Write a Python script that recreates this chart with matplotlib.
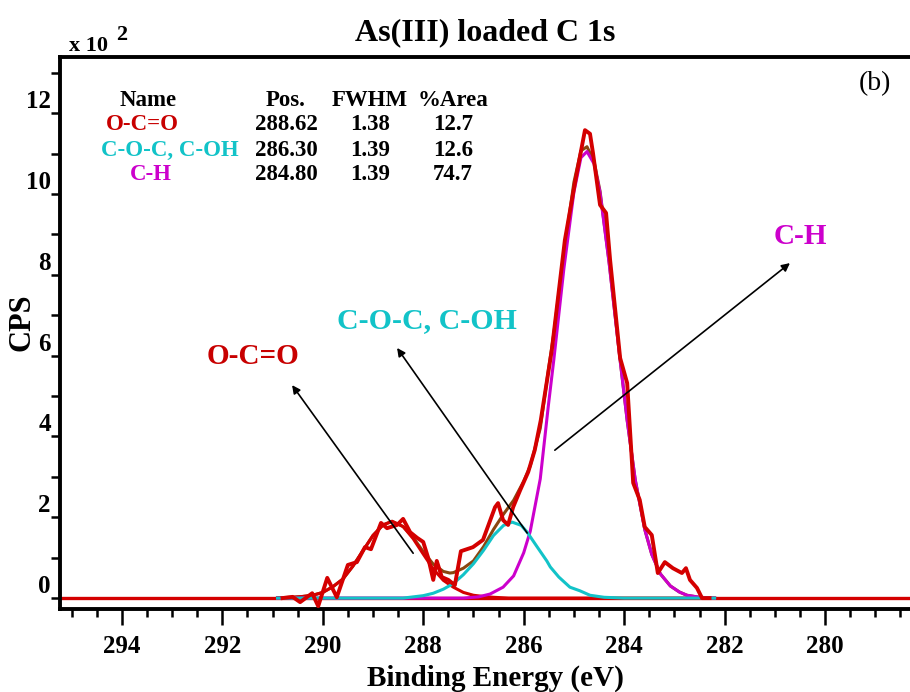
import numpy as np
import matplotlib
matplotlib.use("Agg")
import matplotlib.pyplot as plt

# values in units of 10^2 CPS, binding energy in eV
be_raw = [290.80, 290.60, 290.45, 290.21, 290.09, 289.91, 289.72, 289.50, 289.32,
          289.16, 289.04, 288.84, 288.72, 288.52, 288.40, 288.26, 288.12, 288.00,
          287.90, 287.80, 287.73, 287.63, 287.50, 287.37, 287.25, 287.01, 286.81,
          286.57, 286.51, 286.41, 286.31, 286.21, 286.07, 285.91, 285.78, 285.66,
          285.44, 285.18, 284.98, 284.78, 284.68, 284.62, 284.48, 284.36, 284.28,
          284.08, 283.94, 283.82, 283.69, 283.59, 283.45, 283.33, 283.19, 283.03,
          282.85, 282.77, 282.69, 282.55, 282.45, 282.30]
cps_raw = [0.00, 0.03, -0.10, 0.12, -0.20, 0.50, 0.02, 0.82, 0.89,
           1.26, 1.21, 1.86, 1.73, 1.81, 1.96, 1.63, 1.49, 1.39,
           0.99, 0.45, 0.92, 0.52, 0.45, 0.32, 1.16, 1.26, 1.44,
           2.25, 2.35, 1.93, 1.81, 2.25, 2.67, 3.12, 3.66, 4.40,
           6.14, 8.86, 10.27, 11.58, 11.49, 11.01, 9.73, 9.53, 8.37,
           5.94, 5.32, 2.85, 2.43, 1.76, 1.56, 0.62, 0.89, 0.74,
           0.62, 0.74, 0.45, 0.25, 0.00, 0.00]

be_oco = [290.90, 290.80, 290.60, 290.40, 290.20, 290.00, 289.80, 289.60, 289.40,
          289.20, 289.00, 288.80, 288.62, 288.40, 288.20, 288.00, 287.80, 287.60,
          287.40, 287.20, 287.00, 286.80, 286.60, 286.30, 282.20]
cps_oco = [0.00, 0.01, 0.02, 0.04, 0.07, 0.14, 0.28, 0.47, 0.79,
           1.17, 1.55, 1.81, 1.90, 1.77, 1.47, 1.09, 0.72, 0.44,
           0.27, 0.14, 0.07, 0.04, 0.02, 0.00, 0.00]

be_coc = [290.90, 288.40, 288.00, 287.80, 287.60, 287.40, 287.20, 287.00, 286.80,
          286.60, 286.40, 286.23, 286.05, 285.93, 285.75, 285.54, 285.47, 285.30,
          285.08, 284.88, 284.68, 284.40, 284.00, 282.20]
cps_coc = [0.00, 0.00, 0.06, 0.12, 0.22, 0.36, 0.58, 0.85, 1.18,
           1.55, 1.80, 1.88, 1.80, 1.63, 1.30, 0.92, 0.77, 0.52,
           0.27, 0.18, 0.07, 0.02, 0.00, 0.00]

be_ch = [290.90, 287.20, 286.90, 286.67, 286.41, 286.20, 286.00, 285.87, 285.67,
         285.51, 285.40, 285.20, 285.00, 284.86, 284.74, 284.60, 284.48, 284.30,
         284.10, 283.94, 283.78, 283.59, 283.45, 283.28, 283.08, 282.90, 282.75,
         282.50, 282.20]
cps_ch = [0.00, 0.00, 0.03, 0.10, 0.27, 0.55, 1.12, 1.65, 2.95,
          4.75, 5.90, 8.15, 10.05, 10.90, 11.05, 10.75, 10.03, 8.30,
          6.10, 4.40, 2.93, 1.70, 1.08, 0.60, 0.30, 0.15, 0.07,
          0.02, 0.00]

be_env = [290.90, 290.60, 290.40, 290.20, 290.00, 289.80, 289.60, 289.40, 289.20,
          289.00, 288.80, 288.62, 288.40, 288.20, 288.00, 287.80, 287.60, 287.47,
          287.40, 287.20, 287.00, 286.80, 286.60, 286.40, 286.20, 286.00, 285.87,
          285.67, 285.51, 285.40, 285.20, 285.00, 284.86, 284.74, 284.60, 284.48,
          284.30, 284.10, 283.94, 283.78, 283.59, 283.45, 283.28, 283.08, 282.90,
          282.75, 282.50, 282.20]
cps_env = [0.01, 0.02, 0.04, 0.07, 0.14, 0.28, 0.47, 0.79, 1.17,
           1.55, 1.81, 1.90, 1.77, 1.50, 1.15, 0.84, 0.66, 0.62,
           0.63, 0.74, 0.92, 1.27, 1.70, 2.08, 2.42, 2.89, 3.27,
           4.20, 5.63, 6.55, 8.55, 10.29, 11.07, 11.17, 10.81, 10.07,
           8.32, 6.10, 4.40, 2.93, 1.70, 1.08, 0.60, 0.30, 0.15,
           0.07, 0.02, 0.00]

# peak table
names = ["O-C=O", "C-O-C, C-OH", "C-H"]
positions = ["288.62", "286.30", "284.80"]
fwhms = ["1.38", "1.39", "1.39"]
areas = ["12.7", "12.6", "74.7"]

RED = '#d40000'
CYAN = '#12c3c8'
MAG = '#cc00cc'
BROWN = '#8a4610'
name_colors = ['#c80000', '#12c3c8', '#cc00cc']

plt.rcParams['font.family'] = ['Liberation Serif', 'DejaVu Serif']
plt.rcParams['font.weight'] = 'bold'

fig = plt.figure(figsize=(9.1, 6.92), dpi=100)
ax = fig.add_axes([60/910, 1-609/692, 850/910, 552/692])

ax.axhline(0, color=RED, lw=2.4, zorder=1)
ax.plot(be_env, cps_env, color=BROWN, lw=2.2, zorder=2)
ax.plot(be_oco, cps_oco, color=RED, lw=2.2, zorder=3)
ax.plot(be_ch, cps_ch, color=MAG, lw=2.2, zorder=4)
ax.plot(be_coc, cps_coc, color=CYAN, lw=2.2, zorder=5)
ax.plot(be_raw, cps_raw, color=RED, lw=2.8, zorder=6)

ax.set_xlim(295.23, 278.31)
ax.set_ylim(-0.27, 13.39)

ax.set_xticks(np.arange(280, 296, 2))
ax.set_xticks(np.arange(278.5, 295.5, 0.5), minor=True)
ax.set_yticks(np.arange(0, 13, 2))
ax.set_yticks(np.arange(1, 14, 2), minor=True)

ax.tick_params(axis='x', which='major', direction='out', length=11.5, width=1.8,
               labelsize=18, pad=7)
ax.tick_params(axis='x', which='minor', direction='out', length=5.8, width=1.8)
ax.tick_params(axis='y', which='both', direction='out', length=6.5, width=1.8,
               labelsize=18, pad=0)
for lab in ax.get_yticklabels():
    lab.set_va('bottom')

ax.spines['right'].set_visible(False)
for s in ['left', 'top', 'bottom']:
    ax.spines[s].set_linewidth(2.8)

ax.set_title("As(III) loaded C 1s", fontsize=23, fontweight='bold', pad=12)
ax.set_xlabel("Binding Energy (eV)", fontsize=21, fontweight='bold')
ax.xaxis.set_label_coords(0.512, -0.1)
ax.set_ylabel("CPS", fontsize=22, fontweight='bold')
ax.yaxis.set_label_coords(-0.028, 0.52)

fig.text(69/910, 1-51/692, "x 10", fontsize=16, fontweight='bold', ha='left', va='baseline')
fig.text(116/910, 1-40/692, "2", fontsize=16, fontweight='bold', ha='left', va='baseline')

fig.text(875/910, 1-84/692, "(b)", fontsize=20, fontweight='normal', ha='center', va='center')

# peak table
col_x = [148, 286, 370, 453]
fig.text(col_x[0]/910, 1-100/692, "Name", fontsize=16.5, ha='center', va='center')
fig.text(col_x[1]/910, 1-100/692, "Pos.", fontsize=16.5, ha='center', va='center')
fig.text(col_x[2]/910, 1-100/692, "FWHM", fontsize=16.5, ha='center', va='center')
fig.text(col_x[3]/910, 1-100/692, "%Area", fontsize=16.5, ha='center', va='center')
for i in range(len(names)):
    yy = 1 - (125 + 25*i)/692
    cx = [142, 170, 151][i]
    fig.text(cx/910, yy, names[i], fontsize=16.5, color=name_colors[i], ha='center', va='center')
    fig.text(col_x[1]/910, yy, positions[i], fontsize=16.5, ha='center', va='center')
    fig.text(col_x[2]/910, yy, fwhms[i], fontsize=16.5, ha='center', va='center')
    fig.text(col_x[3]/910, yy, areas[i], fontsize=16.5, ha='center', va='center')

# peak labels with arrows
ax.text(291.39, 5.97, "O-C=O", fontsize=21, color=name_colors[0], ha='center', va='center')
ax.text(287.92, 6.88, "C-O-C, C-OH", fontsize=21.5, color=name_colors[1], ha='center', va='center')
ax.text(280.50, 8.94, "C-H", fontsize=21, color=name_colors[2], ha='center', va='center')
arr = dict(arrowstyle='-|>', color='k', lw=1.2, mutation_scale=12, shrinkA=0, shrinkB=0)
ax.annotate('', xy=(290.61, 5.27), xytext=(288.20, 1.11), arrowprops=arr, zorder=7)
ax.annotate('', xy=(288.52, 6.19), xytext=(285.93, 1.61), arrowprops=arr, zorder=7)
ax.annotate('', xy=(280.70, 8.29), xytext=(285.38, 3.66), arrowprops=arr, zorder=7)

fig.savefig("out.png", dpi=100)
